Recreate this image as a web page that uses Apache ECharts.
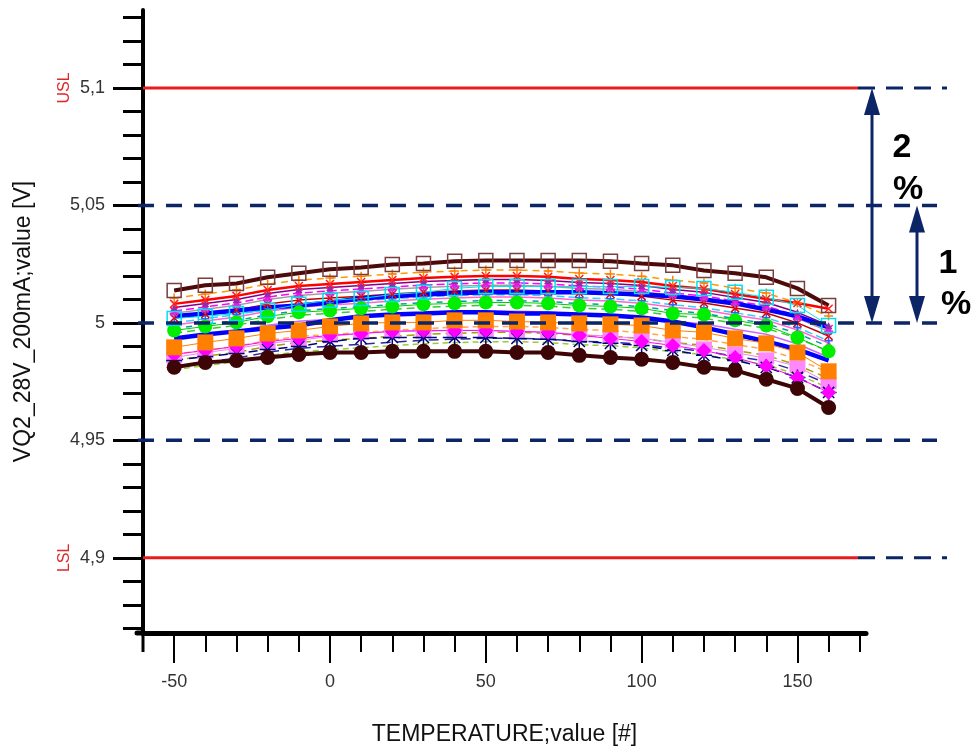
<!DOCTYPE html>
<html>
<head>
<meta charset="utf-8">
<script src="https://cdn.jsdelivr.net/npm/echarts@6.0.0/dist/echarts.min.js"></script>
<style>html,body{margin:0;padding:0;background:#fff}#main{width:973px;height:747px}</style>
</head>
<body>
<div id="main"></div>
<script>
// temperatures and axis ticks
var temps = [-50,-40,-30,-20,-10,0,10,20,30,40,50,60,70,80,90,100,110,120,130,140,150,160];
var xTickValues = [-60,-50,-40,-30,-20,-10,0,10,20,30,40,50,60,70,80,90,100,110,120,130,140,150,160,170];
var xLabelValues = [-50,0,50,100,150];
var yTickValues = [4.87,4.88,4.89,4.9,4.91,4.92,4.93,4.94,4.95,4.96,4.97,4.98,4.99,5,5.01,5.02,5.03,5.04,5.05,5.06,5.07,5.08,5.09,5.1,5.11,5.12,5.13];
var yLabelValues = [4.9,4.95,5,5.05,5.1];
var specLimits = [5.1,4.9];      // USL, LSL
var refLevels = [5.05,5,4.95];   // +1%, nominal, -1%

// main marked series
var maxSquares = [5.0138,5.0160,5.0168,5.0194,5.0211,5.0228,5.0236,5.0249,5.0253,5.0262,5.0266,5.0266,5.0266,5.0266,5.0262,5.0253,5.0245,5.0223,5.0211,5.0194,5.0147,5.0074];
var minCircles = [4.9811,4.9832,4.9840,4.9853,4.9866,4.9874,4.9874,4.9879,4.9879,4.9879,4.9879,4.9874,4.9874,4.9862,4.9853,4.9845,4.9832,4.9811,4.9798,4.9760,4.9721,4.9640];
var greenDots = [4.9968,4.9985,5.0002,5.0028,5.0045,5.0053,5.0062,5.0070,5.0079,5.0083,5.0087,5.0087,5.0083,5.0074,5.0070,5.0062,5.0040,5.0036,5.0011,4.9989,4.9938,4.9879];
var orangeSquares = [4.9896,4.9917,4.9934,4.9955,4.9968,4.9985,4.9998,5.0002,5.0002,5.0011,5.0011,5.0006,5.0002,4.9998,4.9994,4.9989,4.9968,4.9960,4.9934,4.9913,4.9874,4.9794];
var magentaDiamonds = [4.9866,4.9883,4.9900,4.9921,4.9934,4.9947,4.9955,4.9964,4.9968,4.9968,4.9968,4.9964,4.9960,4.9947,4.9934,4.9921,4.9904,4.9883,4.9853,4.9815,4.9768,4.9704];
var violetRects = [4.9853,4.9874,4.9891,4.9913,4.9926,4.9943,4.9955,4.9964,4.9964,4.9968,4.9968,4.9964,4.9960,4.9951,4.9943,4.9934,4.9917,4.9896,4.9874,4.9849,4.9815,4.9743];
var navyStars = [4.9840,4.9857,4.9870,4.9887,4.9900,4.9921,4.9934,4.9938,4.9938,4.9938,4.9938,4.9934,4.9930,4.9921,4.9913,4.9904,4.9883,4.9862,4.9840,4.9811,4.9768,4.9704];
var cyanSquares = [5.0019,5.0028,5.0040,5.0053,5.0079,5.0096,5.0104,5.0121,5.0130,5.0147,5.0155,5.0155,5.0155,5.0155,5.0155,5.0155,5.0151,5.0147,5.0130,5.0109,5.0074,4.9989];
var blueUpper = [5.0028,5.0040,5.0053,5.0066,5.0074,5.0087,5.0104,5.0113,5.0121,5.0126,5.0130,5.0130,5.0130,5.0130,5.0126,5.0121,5.0113,5.0100,5.0083,5.0057,5.0028,4.9981];
var blueLower = [4.9934,4.9951,4.9964,4.9977,4.9989,5.0011,5.0028,5.0036,5.0040,5.0045,5.0045,5.0040,5.0040,5.0036,5.0032,5.0023,5.0006,4.9981,4.9951,4.9921,4.9887,4.9840];

// thin lines
var thinA = [5.0081,5.0098,5.0115,5.0140,5.0157,5.0166,5.0174,5.0183,5.0191,5.0196,5.0200,5.0200,5.0196,5.0187,5.0183,5.0174,5.0157,5.0145,5.0123,5.0102,5.0085,5.0060];
var thinB = [5.0051,5.0068,5.0085,5.0110,5.0127,5.0136,5.0144,5.0153,5.0161,5.0166,5.0170,5.0170,5.0166,5.0157,5.0153,5.0144,5.0127,5.0115,5.0093,5.0072,5.0030,4.9974];
var thinC = [5.0066,5.0083,5.0100,5.0125,5.0142,5.0151,5.0159,5.0168,5.0176,5.0181,5.0185,5.0185,5.0181,5.0172,5.0168,5.0159,5.0142,5.0130,5.0108,5.0087,5.0045,4.9989];
var thinD = [5.0021,5.0038,5.0055,5.0080,5.0097,5.0106,5.0114,5.0123,5.0131,5.0136,5.0140,5.0140,5.0136,5.0127,5.0123,5.0114,5.0097,5.0085,5.0063,5.0042,5.0000,4.9944];
var thinE = [5.0106,5.0123,5.0140,5.0165,5.0182,5.0191,5.0199,5.0208,5.0216,5.0221,5.0225,5.0225,5.0221,5.0212,5.0208,5.0199,5.0182,5.0170,5.0148,5.0127,5.0085,5.0029];
var thinF = [4.9991,5.0008,5.0025,5.0050,5.0067,5.0076,5.0084,5.0093,5.0101,5.0106,5.0110,5.0110,5.0106,5.0097,5.0093,5.0084,5.0067,5.0055,5.0033,5.0012,4.9970,4.9914];
var thinG = [4.9956,4.9973,4.9990,5.0015,5.0032,5.0041,5.0049,5.0058,5.0066,5.0071,5.0075,5.0075,5.0071,5.0062,5.0058,5.0049,5.0032,5.0020,4.9998,4.9977,4.9935,4.9879];
var thinH = [4.9841,4.9858,4.9875,4.9900,4.9917,4.9926,4.9934,4.9943,4.9951,4.9956,4.9960,4.9960,4.9956,4.9947,4.9943,4.9934,4.9917,4.9905,4.9883,4.9862,4.9820,4.9764];
var thinI = [4.9976,4.9993,5.0010,5.0035,5.0052,5.0061,5.0069,5.0078,5.0086,5.0091,5.0095,5.0095,5.0091,5.0082,5.0078,5.0069,5.0052,5.0040,5.0018,4.9997,4.9955,4.9899];
var thinJ = [4.9816,4.9833,4.9850,4.9875,4.9892,4.9901,4.9909,4.9918,4.9926,4.9931,4.9935,4.9935,4.9931,4.9922,4.9918,4.9909,4.9892,4.9880,4.9858,4.9837,4.9795,4.9739];
var thinK = [4.9801,4.9818,4.9835,4.9860,4.9877,4.9886,4.9894,4.9903,4.9911,4.9916,4.9920,4.9920,4.9916,4.9907,4.9903,4.9894,4.9877,4.9865,4.9843,4.9822,4.9780,4.9724];
var thinL = [5.0041,5.0058,5.0075,5.0100,5.0117,5.0126,5.0134,5.0143,5.0151,5.0156,5.0160,5.0160,5.0156,5.0147,5.0143,5.0134,5.0117,5.0105,5.0083,5.0062,5.0020,4.9964];
var thinM = [4.9931,4.9948,4.9965,4.9990,5.0007,5.0016,5.0024,5.0033,5.0041,5.0046,5.0050,5.0050,5.0046,5.0037,5.0033,5.0024,5.0007,4.9995,4.9973,4.9952,4.9910,4.9854];
var thinN = [5.0001,5.0018,5.0035,5.0060,5.0077,5.0086,5.0094,5.0103,5.0111,5.0116,5.0120,5.0120,5.0116,5.0107,5.0103,5.0094,5.0077,5.0065,5.0043,5.0022,4.9980,4.9924];
var thinO = [4.9866,4.9883,4.9900,4.9925,4.9942,4.9951,4.9959,4.9968,4.9976,4.9981,4.9985,4.9985,4.9981,4.9972,4.9968,4.9959,4.9942,4.9930,4.9908,4.9887,4.9845,4.9789];

var X_SYM = 'path://M0,0L10,10M10,0L0,10';
var PLUS_SYM = 'path://M5,0L5,10M0,5L10,5';
var STAR_SYM = 'path://M5,0L5,10M0,5L10,5M1.5,1.5L8.5,8.5M8.5,1.5L1.5,8.5';
var NAVY = '#0b2566';
var FONT = 'Liberation Sans, Arial, sans-serif';

var chart = echarts.init(document.getElementById('main'));

function pairs(vals) {
  return temps.map(function (t, i) { return [t, vals[i]]; });
}

function lineSeries(vals, color, width, type, symbol, size, fill, border) {
  return {
    type: 'line',
    data: pairs(vals),
    symbol: symbol || 'none',
    symbolSize: size || 7,
    showSymbol: !!symbol,
    lineStyle: { color: color, width: width, type: type || 'solid' },
    itemStyle: {
      color: fill === undefined ? color : fill,
      borderColor: border || color,
      borderWidth: fill === 'rgba(0,0,0,0)' ? 1.5 : 0
    },
    emphasis: { disabled: true },
    silent: true
  };
}

var series = [
  lineSeries(thinO, '#ffa64d', 1.5, [6, 4]),
  lineSeries(thinK, '#99cc33', 1.5, [6, 4]),
  lineSeries(thinJ, '#2a2aa0', 1.5, [10, 6]),
  lineSeries(thinH, '#a0a000', 1.5, [8, 5]),
  lineSeries(thinM, '#cc66ff', 1.5, 'solid'),
  lineSeries(thinG, '#33cc33', 1.5, [8, 5]),
  lineSeries(thinI, '#00a0a0', 1.5, [6, 6]),
  lineSeries(thinF, '#ff66cc', 1.5, 'solid', 'triangle', 7, '#ff66cc'),
  lineSeries(thinN, '#33ccff', 1.5, [8, 4], PLUS_SYM, 8, 'rgba(0,0,0,0)', '#3060ff'),
  lineSeries(thinD, '#c00000', 1.5, 'solid', X_SYM, 8, 'rgba(0,0,0,0)', '#e00000'),
  lineSeries(thinL, '#a0a0a0', 1.5, 'solid', STAR_SYM, 9, 'rgba(0,0,0,0)', '#c040c0'),
  lineSeries(thinB, '#ff00ff', 1.5, [8, 4], X_SYM, 8, 'rgba(0,0,0,0)', '#ff00ff'),
  lineSeries(thinC, '#800080', 1.5, 'solid', 'triangle', 7, '#9030a0'),
  lineSeries(thinE, '#ff9900', 1.5, [7, 5], PLUS_SYM, 9, 'rgba(0,0,0,0)', '#ff8000'),
  lineSeries(thinA, '#ff0000', 2.5, 'solid', X_SYM, 8, 'rgba(0,0,0,0)', '#ff2020'),
  lineSeries(blueLower, '#0000ff', 4.5, 'solid'),
  lineSeries(blueUpper, '#0000ff', 4.5, 'solid'),
  lineSeries(violetRects, '#ee82ee', 1, 'solid', 'rect', [16, 12], '#ff88ff'),
  lineSeries(navyStars, '#000080', 1.5, [9, 6], STAR_SYM, 16, 'rgba(0,0,0,0)', '#000080'),
  lineSeries(magentaDiamonds, '#ff00ff', 1, 'solid', 'diamond', 15, '#ff00ff'),
  lineSeries(orangeSquares, '#ff8000', 1, 'solid', 'rect', 16, '#ff8000'),
  lineSeries(greenDots, '#00cc00', 1, 'solid', 'circle', 14, '#00ee00'),
  lineSeries(cyanSquares, '#00e5ee', 1, 'solid', 'rect', 14, 'rgba(0,0,0,0)', '#00e0f0'),
  lineSeries(minCircles, '#3d0505', 4, 'solid', 'circle', 15, '#3d0505'),
  lineSeries(maxSquares, '#4d0a0a', 4, 'solid', 'rect', 14, 'rgba(0,0,0,0)', '#7a3c3c')
];

var tickFont = { color: '#333', fontSize: 18, fontFamily: FONT };

chart.setOption({
  animation: false,
  backgroundColor: '#fff',
  grid: { left: 143, top: 10, width: 723, height: 623, containLabel: false, outerBoundsMode: 'none' },
  xAxis: [{
    type: 'value', min: -60, max: 172,
    name: 'TEMPERATURE;value [#]', nameLocation: 'middle', nameGap: 90,
    nameTextStyle: { color: '#111', fontSize: 23, fontFamily: FONT },
    axisLine: { show: true, onZero: false, lineStyle: { color: '#000', width: 5 } },
    axisTick: { show: true, customValues: xTickValues, length: 19, lineStyle: { color: '#000', width: 2 } },
    axisLabel: Object.assign({ customValues: xLabelValues, margin: 40 }, tickFont),
    splitLine: { show: false }
  }, {
    type: 'value', min: -60, max: 172, position: 'bottom',
    axisLine: { show: false, onZero: false },
    axisTick: { show: true, customValues: xLabelValues, length: 30, lineStyle: { color: '#000', width: 2 } },
    axisLabel: { show: false },
    splitLine: { show: false }
  }],
  yAxis: [{
    type: 'value', min: 4.868, max: 5.1332,
    name: 'VQ2_28V_200mA;value [V]', nameLocation: 'middle', nameGap: 108,
    nameTextStyle: { color: '#111', fontSize: 23, fontFamily: FONT },
    axisLine: { show: true, onZero: false, lineStyle: { color: '#000', width: 4 } },
    axisTick: { show: true, customValues: yTickValues, length: 20, lineStyle: { color: '#000', width: 3 } },
    axisLabel: Object.assign({
      customValues: yLabelValues, margin: 38,
      formatter: function (v) { return String(v).replace('.', ','); }
    }, tickFont),
    splitLine: { show: false }
  }, {
    type: 'value', min: 4.868, max: 5.1332, position: 'left',
    axisLine: { show: false, onZero: false },
    axisTick: { show: true, customValues: yLabelValues, length: 30, lineStyle: { color: '#000', width: 3 } },
    axisLabel: { show: false },
    splitLine: { show: false }
  }],
  series: series
});

// spec limits, reference levels and the % arrows
function yPix(v) { return chart.convertToPixel({ yAxisIndex: 0 }, v); }
function xPix(v) { return chart.convertToPixel({ xAxisIndex: 0 }, v); }

var g = [];
var x0 = xPix(-60);
var xRedEnd = 858;
specLimits.forEach(function (v) {
  var y = yPix(v);
  g.push({ type: 'line', z: 100, shape: { x1: x0, y1: y, x2: xRedEnd, y2: y }, style: { stroke: '#e81c1c', lineWidth: 3 } });
  g.push({ type: 'line', z: 100, shape: { x1: xRedEnd, y1: y, x2: 947, y2: y }, style: { stroke: NAVY, lineWidth: 3, lineDash: [17, 11] } });
});
refLevels.forEach(function (v) {
  var y = yPix(v);
  g.push({ type: 'line', z: 100, shape: { x1: x0 - 5, y1: y, x2: 937, y2: y }, style: { stroke: NAVY, lineWidth: 3.5, lineDash: [16, 12] } });
});
g.push({ type: 'text', z: 100, x: 65, y: yPix(5.1), rotation: Math.PI / 2,
  style: { text: 'USL', fill: '#e02828', fontSize: 16, fontFamily: FONT, align: 'center', verticalAlign: 'middle' } });
g.push({ type: 'text', z: 100, x: 65, y: yPix(4.9), rotation: Math.PI / 2,
  style: { text: 'LSL', fill: '#e02828', fontSize: 16, fontFamily: FONT, align: 'center', verticalAlign: 'middle' } });

function arrow(x, yTop, yBot) {
  var h = 27, w = 8;
  g.push({ type: 'line', z: 100, shape: { x1: x, y1: yTop + 10, x2: x, y2: yBot - 10 }, style: { stroke: NAVY, lineWidth: 3 } });
  g.push({ type: 'polygon', z: 100, shape: { points: [[x, yTop], [x - w, yTop + h], [x + w, yTop + h]] }, style: { fill: NAVY } });
  g.push({ type: 'polygon', z: 100, shape: { points: [[x, yBot], [x - w, yBot - h], [x + w, yBot - h]] }, style: { fill: NAVY } });
}
arrow(872, yPix(5.1), yPix(5));
arrow(917, yPix(5.05), yPix(5));

function bigText(t, x, y) {
  g.push({ type: 'text', z: 101, x: x, y: y,
    style: { text: t, fill: '#000', fontSize: 34, fontWeight: 'bold', fontFamily: FONT, align: 'center', verticalAlign: 'middle' } });
}
bigText('2', 902, 148);
bigText('%', 908, 190);
bigText('1', 948, 264);
bigText('%', 956, 305);

// little stub of the y axis below the x axis, and the x axis running just past it
g.push({ type: 'line', z: 100, shape: { x1: x0, y1: yPix(4.868), x2: x0, y2: yPix(4.868) + 19 }, style: { stroke: '#000', lineWidth: 3 } });
g.push({ type: 'line', z: 100, shape: { x1: x0 - 6, y1: yPix(4.868), x2: x0, y2: yPix(4.868) }, style: { stroke: '#000', lineWidth: 5, lineCap: 'round' } });

chart.setOption({ graphic: g });
</script>
</body>
</html>
